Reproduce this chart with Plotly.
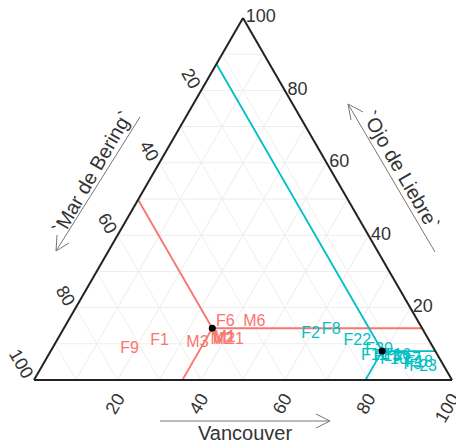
import plotly.graph_objects as go

# ---- data (percentages: Ojo de Liebre = a, Mar de Bering = b, Vancouver = c) ----
red_labels = ["F9", "F1", "M3", "F6", "M6", "M2", "M1", "M21"]
red_ojo    = [8.5, 10.7, 10.2, 16.0, 16.0, 11.0, 11.6, 11.0]
red_mar    = [72.8, 64.6, 55.8, 46.2, 39.3, 49.6, 48.6, 48.0]
red_van    = [18.6, 24.7, 34.0, 37.8, 44.7, 39.4, 39.8, 41.0]

teal_labels = ["F2", "F8", "F22", "F20", "F11", "F13", "F16", "F10", "F17", "F18", "F23", "F3"]
teal_ojo    = [12.7, 13.8, 10.7, 8.3, 6.6, 6.3, 6.6, 5.5, 5.5, 4.7, 3.6, 4.1]
teal_mar    = [27.5, 22.0, 17.3, 13.3, 15.3, 12.3, 9.8, 11.1, 8.0, 5.5, 5.1, 7.3]
teal_van    = [59.8, 64.2, 72.0, 78.4, 78.1, 81.4, 83.6, 83.4, 86.5, 89.8, 91.3, 88.6]

group_names  = ["red", "teal"]
group_colors = ["#F8766D", "#00BFC4"]
mean_ojo = [14.3, 8.0]
mean_mar = [50.2, 12.7]
mean_van = [35.5, 79.3]

tick_vals = [0, 10, 20, 30, 40, 50, 60, 70, 80, 90, 100]
tick_major = [20, 40, 60, 80, 100]

W, H = 456, 445
FONT = "Liberation Sans, Arial, sans-serif"

def rev_text(vals):
    out = []
    for v in vals:
        r = 100 - v
        out.append(str(r) if (r in tick_major) else "")
    return out

fig = go.Figure()

# guide lines from each group mean to the three edges
for k in range(len(group_names)):
    a, b, c = mean_ojo[k], mean_mar[k], mean_van[k]
    col = group_colors[k]
    # constant Mar de Bering -> left edge
    fig.add_trace(go.Scatterternary(a=[a, 100 - b], b=[b, b], c=[c, 0], mode="lines",
                                    line=dict(color=col, width=1.8), hoverinfo="skip"))
    # constant Ojo de Liebre -> right edge
    fig.add_trace(go.Scatterternary(a=[a, a], b=[b, 0], c=[c, 100 - a], mode="lines",
                                    line=dict(color=col, width=1.8), hoverinfo="skip"))
    # constant Vancouver -> bottom edge
    fig.add_trace(go.Scatterternary(a=[a, 0], b=[b, 100 - c], c=[c, c], mode="lines",
                                    line=dict(color=col, width=1.8), hoverinfo="skip"))

fig.add_trace(go.Scatterternary(a=red_ojo, b=red_mar, c=red_van, mode="text", text=red_labels,
                                textfont=dict(color="#F8766D", size=16, family=FONT), hoverinfo="skip"))
fig.add_trace(go.Scatterternary(a=teal_ojo, b=teal_mar, c=teal_van, mode="text", text=teal_labels,
                                textfont=dict(color="#00BFC4", size=16, family=FONT), hoverinfo="skip"))

fig.add_trace(go.Scatterternary(a=mean_ojo, b=mean_mar, c=mean_van, mode="markers",
                                marker=dict(color="black", size=7), hoverinfo="skip"))

axis_common = dict(
    title=dict(text=""),
    tickmode="array",
    tickvals=tick_vals,
    showgrid=True,
    gridcolor="#eeeeee",
    gridwidth=1,
    showline=True,
    linecolor="#222222",
    linewidth=2,
    ticks="",
    tickfont=dict(size=18, color="#333333", family=FONT),
)

fig.update_layout(
    width=W, height=H,
    margin=dict(l=0, r=0, t=0, b=0),
    paper_bgcolor="white",
    showlegend=False,
    ternary=dict(
        sum=100,
        bgcolor="white",
        domain=dict(x=[34 / W, 452 / W], y=[1 - 380 / H, 1 - 18 / H]),
        aaxis=dict(axis_common, ticktext=rev_text(tick_vals), tickangle=60),
        baxis=dict(axis_common, ticktext=rev_text(tick_vals), tickangle=-60),
        caxis=dict(axis_common, ticktext=rev_text(tick_vals), tickangle=0),
    ),
)

def px(x, y):
    return x / W, 1 - y / H

def add_arrow(x0, y0, x1, y1, h1, h2):
    for (xa, ya, xb, yb) in [(x0, y0, x1, y1), (x1, y1) + h1, (x1, y1) + h2]:
        p, q = px(xa, ya), px(xb, yb)
        fig.add_shape(type="line", xref="paper", yref="paper", x0=p[0], y0=p[1], x1=q[0], y1=q[1],
                      line=dict(color="#777777", width=1))

# axis titles with arrows
add_arrow(160, 421, 330, 421, (316, 414), (316, 428))
add_arrow(140, 117, 56, 251, (57, 235), (69, 243))
add_arrow(435, 252, 348, 104, (351, 120), (363, 112))

title_font = dict(size=20, color="#333333", family=FONT)
for (x, y, t, ang) in [(245, 433, "Vancouver", 0),
                       (92, 173, "`Mar de Bering`", -60),
                       (401, 170, "`Ojo de Liebre`", 60)]:
    p = px(x, y)
    fig.add_annotation(x=p[0], y=p[1], xref="paper", yref="paper", text=t, showarrow=False,
                       textangle=ang, font=title_font, xanchor="center", yanchor="middle")

fig.write_html("out.html", post_script="document.body.style.margin='0';")
